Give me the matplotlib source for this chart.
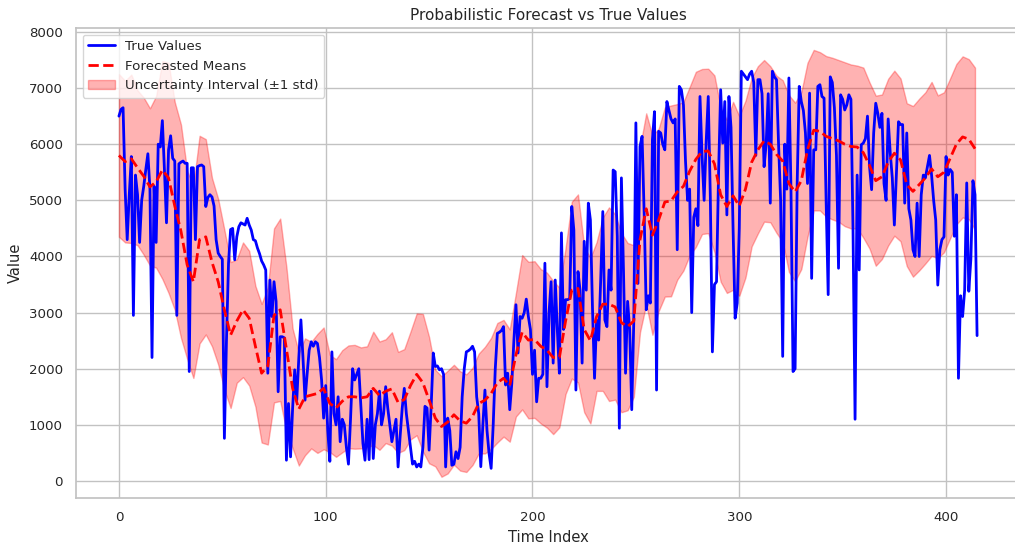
import numpy as np
import matplotlib
matplotlib.use("Agg")
import matplotlib.pyplot as plt
import seaborn as sns

# observed series, one value per time step
true_vals = [
    6500, 6620, 6650, 5200, 4300, 5100, 5780, 2950, 5450, 5100,
    4250, 5000, 5250, 5550, 5830, 5200, 2200, 5250, 4250, 6000,
    5950, 6420, 5550, 4600, 5900, 6150, 5750, 5700, 2950, 5650,
    5680, 5700, 5660, 5660, 1950, 5580, 5580, 4300, 5600, 5620,
    5630, 5600, 4890, 5050, 5100, 5060, 4900, 4300, 4060, 4000,
    3950, 760, 2500, 3880, 4480, 4500, 3940, 4350, 4530, 4600,
    4580, 4560, 4680, 4560, 4470, 4300, 4280, 4150, 4050, 3920,
    3850, 3760, 1920, 3580, 2930, 3550, 3200, 1590, 2570, 2570,
    2550, 370, 1380, 430, 1300, 1980, 1440, 2200, 2870, 2200,
    1440, 1900, 2330, 2480, 2400, 2480, 2450, 2200, 1800, 1120,
    1700, 900, 350, 2300, 1200, 1000, 1500, 700, 1100, 1000,
    600, 300, 1100, 2000, 1800, 1900, 2000, 1330, 670, 370,
    1100, 380, 1600, 400, 1000, 1200, 1600, 1000, 1200, 1680,
    1300, 1000, 700, 900, 1100, 250, 800, 1300, 1650, 1200,
    900, 600, 300, 350, 250, 300, 250, 600, 1330, 1300,
    550, 1330, 2280, 2040, 2050, 1980, 2000, 1900, 250, 1120,
    900, 280, 300, 520, 400, 600, 1500, 2000, 2300, 2320,
    2350, 2400, 2300, 1500, 1200, 255, 1000, 1620, 900, 490,
    225, 1000, 2000, 2630, 2650, 2680, 2750, 1710, 1920, 1270,
    1740, 2500, 3140, 2280, 2930, 2900, 3000, 3240, 2930, 2700,
    1900, 2330, 1410, 1830, 1830, 1900, 3880, 1680, 3000, 3550,
    2100, 3580, 2700, 1920, 4420, 2700, 3230, 3230, 3250, 4890,
    4470, 1620, 3730, 3400, 2100, 4270, 3400, 4950, 4650, 3100,
    1830, 2870, 2510, 3600, 4800, 2870, 2750, 3760, 3400, 5540,
    5510, 4360, 940, 5400, 3760, 1920, 3200, 2700, 1270, 2870,
    6380, 3520, 5960, 6140, 4770, 3050, 3300, 3170, 6080, 6580,
    1620, 6230, 6200, 6000, 5900, 6760, 6600, 6450, 6380, 6450,
    4120, 7030, 6970, 6700, 5700, 5000, 5200, 3000, 4700, 4850,
    4550, 6850, 5800, 5000, 6050, 6850, 5050, 2300, 3500, 3550,
    5500, 6970, 6020, 6760, 4740, 6850, 6300, 4500, 2900, 3170,
    4500, 7300, 7250, 7200, 7150, 7250, 7300, 7100, 5800, 7150,
    7150, 6900, 5600, 6000, 6900, 4950, 7300, 7200, 7150, 6000,
    5000, 2220, 6000, 5200, 7180, 5200, 1950, 2000, 5300, 7030,
    6760, 6600, 6200, 5300, 6910, 3610, 5900, 5900, 7030, 7060,
    6850, 6820, 5000, 3320, 7200, 7100, 6650, 5800, 3790, 6880,
    6800, 6610, 6700, 6880, 6800, 4500, 1100, 5450, 3760, 5990,
    6020, 6100, 6500, 5600, 5190, 6200, 6730, 6550, 6300, 6550,
    5300, 5000, 6450, 5850, 5400, 4560, 5500, 6400, 6350, 6350,
    4950, 6200, 4850, 4650, 4120, 4000, 4950, 4000, 5100, 5450,
    5400, 5600, 5800, 5450, 5000, 4650, 3490, 4120, 4300, 4350,
    5780, 5450, 5550, 5500, 4360, 5100, 1830, 3300, 2930, 3400,
    5310, 3380, 3950, 5350, 5100, 2590,
]

# forecast output, sampled every 3 time steps
fc_step = 3
pred_mean = [
    5800, 5690, 5740, 5580, 5430, 5240, 5330, 5540, 5400, 4900,
    4450, 3850, 3550, 4300, 4350, 3900, 3550, 3050, 2600, 2850,
    3050, 2900, 2400, 1920, 2050, 2950, 3050, 2350, 1650, 1280,
    1500, 1530, 1560, 1650, 1380, 1300, 1420, 1500, 1500, 1480,
    1500, 1650, 1520, 1600, 1640, 1400, 1450, 1700, 1900, 1750,
    1440, 1120, 970, 1050, 1180, 1070, 1030, 1150, 1380, 1440,
    1560, 1750, 1830, 1700, 2250, 2650, 2510, 2520, 2400, 2330,
    2200, 2200, 2850, 3400, 3430, 2700, 2500, 2930, 3150, 3150,
    3100, 2820, 2750, 2850, 4300, 4850, 4380, 4650, 4970, 4990,
    5150, 5250, 5520, 5730, 5870, 5880, 5650, 5100, 4890, 5080,
    4900, 5200, 5680, 5900, 6060, 6000, 5820, 5700, 5300, 5150,
    5350, 5900, 6250, 6230, 6140, 6100, 6060, 6000, 5960, 5950,
    5850, 5620, 5350, 5420, 5680, 5840, 5720, 5280, 5160, 5280,
    5400, 5560, 5420, 5500, 5750, 6000, 6130, 6090, 5920,
]
pred_std = [
    1450, 1440, 1500, 1380, 1400, 1400, 1530, 1940, 2050, 1850,
    1900, 1675, 1715, 1850, 1740, 1500, 1475, 1425, 1300, 1100,
    1200, 1200, 1075, 1235, 1400, 1550, 1625, 1460, 1065, 1005,
    1040, 950, 1060, 1085, 865, 870, 910, 915, 925, 900,
    900, 1010, 965, 925, 1010, 900, 900, 960, 1085, 1225,
    1125, 860, 895, 915, 890, 885, 870, 865, 890, 950,
    990, 1065, 1040, 1000, 1100, 1375, 1395, 1395, 1375, 1380,
    1365, 1245, 1300, 1575, 1675, 1475, 1475, 1325, 1545, 1725,
    1650, 1595, 1490, 1350, 1650, 1700, 1775, 1625, 1685, 1700,
    1565, 1500, 1500, 1560, 1470, 1465, 1575, 1550, 1540, 1675,
    1600, 1575, 1500, 1490, 1440, 1390, 1400, 1440, 1575, 1590,
    1575, 1550, 1430, 1410, 1430, 1440, 1440, 1460, 1460, 1450,
    1515, 1480, 1515, 1465, 1485, 1470, 1450, 1450, 1520, 1530,
    1525, 1550, 1450, 1425, 1425, 1430, 1435, 1425, 1445,
]

true_vals = np.array(true_vals)
pred_mean = np.array(pred_mean)
pred_std = np.array(pred_std)
t = np.arange(len(true_vals))
t_fc = np.arange(len(pred_mean)) * fc_step

sns.set_theme(style="whitegrid")
plt.rcParams['font.family'] = ['DejaVu Sans']
plt.rcParams['grid.color'] = '0.76'
plt.rcParams['axes.edgecolor'] = '0.76'

fig = plt.figure(figsize=(10.15, 5.43), dpi=100)
ax = fig.add_axes([0.0749, 0.0829, 0.930, 0.8656])

ax.plot(t, true_vals, color='blue', lw=2, label='True Values')
ax.plot(t_fc, pred_mean, color='red', ls='--', lw=2, label='Forecasted Means')
ax.fill_between(t_fc, pred_mean - pred_std, pred_mean + pred_std,
                color='red', alpha=0.3, label='Uncertainty Interval (±1 std)')

ax.set_xlim(-20.75, 435.75)
ax.set_ylim(-303, 8071)
ax.set_title('Probabilistic Forecast vs True Values', fontsize=11)
ax.set_xlabel('Time Index', fontsize=10.5)
ax.set_ylabel('Value', fontsize=10.5)
ax.tick_params(labelsize=9.6)
ax.legend(loc='upper left', fontsize=9.6)

fig.savefig('out.png', dpi=100)
